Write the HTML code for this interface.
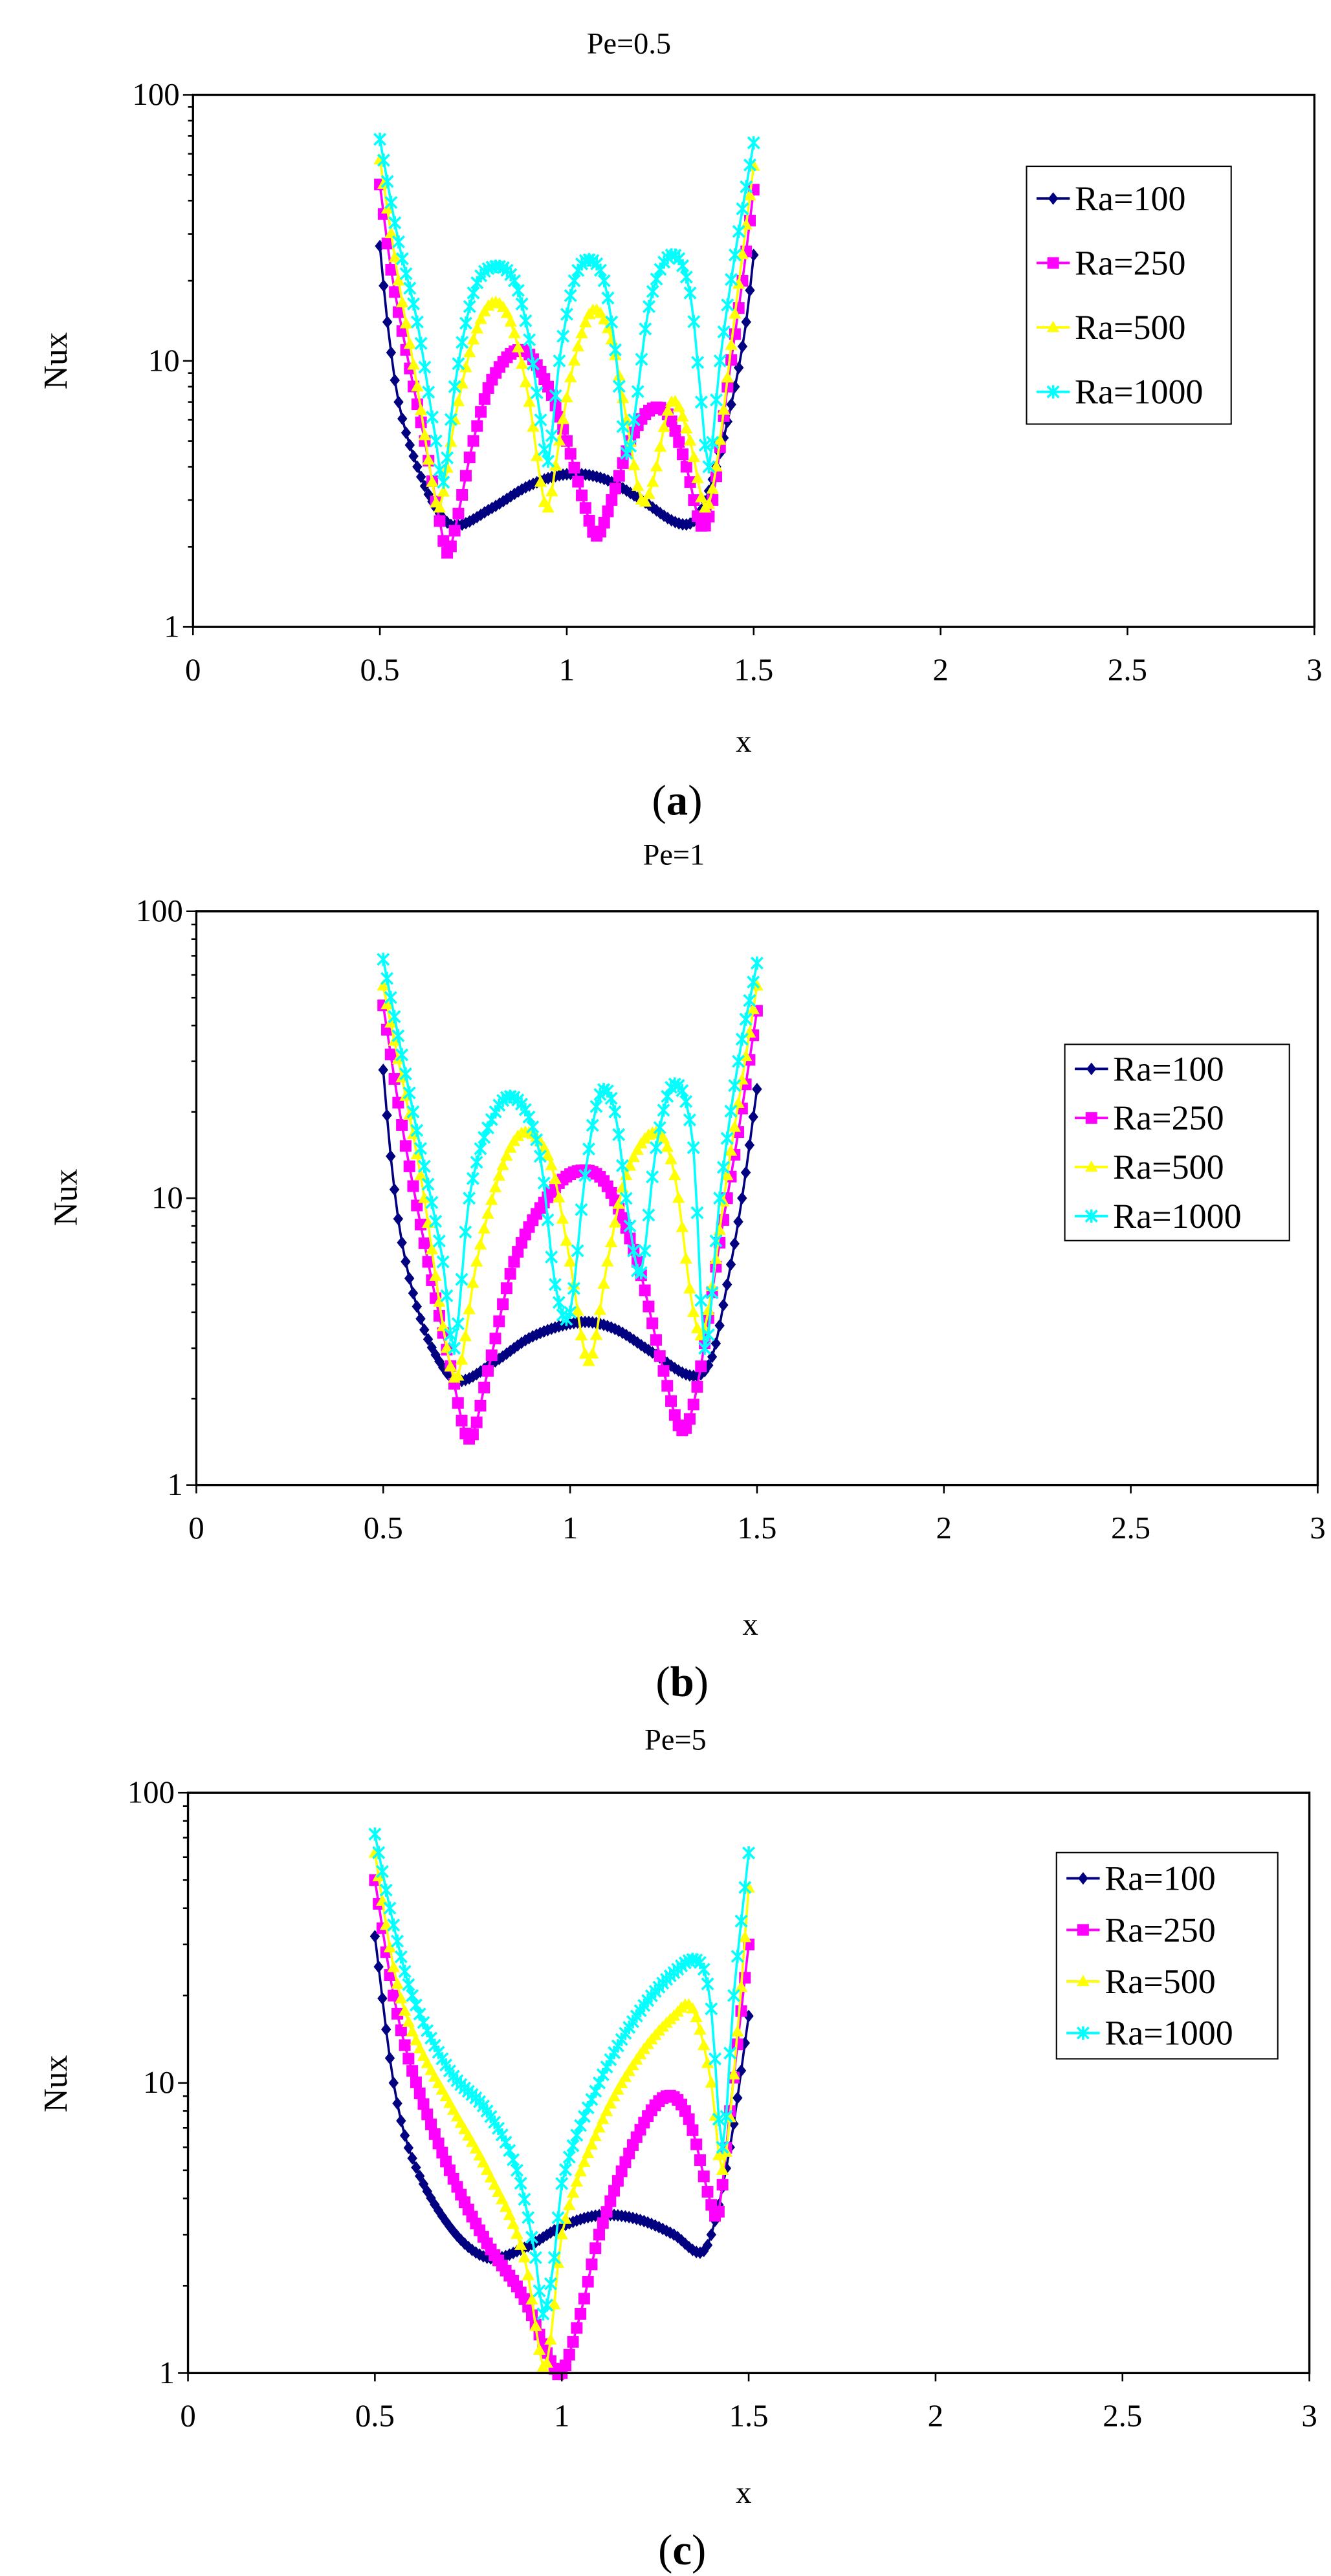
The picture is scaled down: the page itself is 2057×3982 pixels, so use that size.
<!DOCTYPE html>
<html><head><meta charset="utf-8"><style>
html,body{margin:0;padding:0;background:#fff}
svg{display:block}
text{font-family:"Liberation Serif",serif;fill:#000}
</style></head><body>
<svg id="s" width="2057" height="3982" viewBox="0 0 800 1549" preserveAspectRatio="none" xmlns="http://www.w3.org/2000/svg"></svg>
<script>
const NS="http://www.w3.org/2000/svg",S=document.getElementById('s');
function el(t,a,txt){const e=document.createElementNS(NS,t);for(const k in a)e.setAttribute(k,a[k]);if(txt!==undefined)e.textContent=txt;S.appendChild(e);return e;}
const cols=["#000080","#FF00FF","#FFFF00","#00FFFF"];
const names=["Ra=100","Ra=250","Ra=500","Ra=1000"];
function interp(pts,x){
  let i=0;while(i<pts.length-2&&x>pts[i+1][0])i++;
  const p0=pts[Math.max(i-1,0)],p1=pts[i],p2=pts[i+1],p3=pts[Math.min(i+2,pts.length-1)];
  const t=(x-p1[0])/(p2[0]-p1[0]);
  const L=v=>Math.log10(v);
  const y0=L(p0[1]),y1=L(p1[1]),y2=L(p2[1]),y3=L(p3[1]);
  const h=p2[0]-p1[0];
  const m1=(y2-y0)/(p2[0]-p0[0]||1)*h,m2=(y3-y1)/(p3[0]-p1[0]||1)*h;
  const t2=t*t,t3=t2*t;
  return (2*t3-3*t2+1)*y1+(t3-2*t2+t)*m1+(-2*t3+3*t2)*y2+(t3-t2)*m2;
}
function marker(k,x,y){
  const c=cols[k];
  if(k==0)el('polygon',{points:`${x},${y-3.8} ${x+3},${y} ${x},${y+3.8} ${x-3},${y}`,fill:c});
  else if(k==1)el('rect',{x:x-3.5,y:y-3.5,width:7,height:7,fill:c});
  else if(k==2)el('polygon',{points:`${x},${y-4} ${x+3.8},${y+2.8} ${x-3.8},${y+2.8}`,fill:c});
  else{el('path',{d:`M${x-3.4},${y-3.4}L${x+3.4},${y+3.4}M${x-3.4},${y+3.4}L${x+3.4},${y-3.4}M${x},${y-4}L${x},${y+4}`,stroke:c,'stroke-width':1.4,fill:'none'});}
}
function panel(P){
  const {L,R,T,B}=P;
  const X=v=>L+v/3*(R-L),Y=lv=>B-lv/2*(B-T);
  el('text',{x:P.title[0],y:P.title[1],'font-size':18,'text-anchor':'middle'},P.title[2]);
  P.data.forEach((pts,k)=>{
    let d="";const mk=[];
    for(let i=0;i<=100;i++){const x=0.5+i*0.01;const ly=interp(pts,x);const px=X(x),py=Y(ly);d+=(i?"L":"M")+px.toFixed(2)+","+py.toFixed(2);mk.push([px,py]);}
    el('path',{d,stroke:cols[k],'stroke-width':1.4,fill:'none'});
    mk.forEach(m=>marker(k,m[0],m[1]));
  });
  el('rect',{x:L,y:T,width:R-L,height:B-T,fill:'none',stroke:'#000','stroke-width':1.3});
  for(let i=0;i<=6;i++){const x=L+i*(R-L)/6;el('line',{x1:x,y1:B,x2:x,y2:B+5,stroke:'#000','stroke-width':1});
    el('text',{x:x,y:B+32,'font-size':19,'text-anchor':'middle'},String(i*0.5));}
  for(let d=0;d<2;d++)for(let m=1;m<=9;m++){const y=Y(d+Math.log10(m));el('line',{x1:L-(m==1?6:3),y1:y,x2:L,y2:y,stroke:'#000','stroke-width':1});}
  el('line',{x1:L-6,y1:T,x2:L,y2:T,stroke:'#000','stroke-width':1});
  [["1",0],["10",1],["100",2]].forEach(a=>el('text',{x:L-8,y:Y(a[1])+6,'font-size':19,'text-anchor':'end'},a[0]));
  el('text',{x:P.xl[0],y:P.xl[1],'font-size':19,'text-anchor':'middle'},"x");
  el('text',{x:0,y:0,'font-size':20,'text-anchor':'middle',transform:`translate(${P.nux[0]},${P.nux[1]}) rotate(-90)`},"Nux");
  const lg=P.leg;el('rect',{x:lg[0],y:lg[1],width:lg[2]-lg[0],height:lg[3]-lg[1],fill:'#fff',stroke:'#000','stroke-width':0.8});
  const step=(lg[3]-lg[1])/4;
  for(let k=0;k<4;k++){const y=lg[1]+step*(k+0.5);
    el('line',{x1:lg[0]+6,y1:y,x2:lg[0]+26,y2:y,stroke:cols[k],'stroke-width':1.5});marker(k,lg[0]+16,y);
    el('text',{x:lg[0]+29,y:y+7,'font-size':21},names[k]);}
  const t=el('text',{x:P.lab[0],y:P.lab[1],'font-size':26,'text-anchor':'middle'});
  t.innerHTML=`(<tspan font-weight="bold">${P.lab[2]}</tspan>)`;
}
panel({L:116,R:790,T:57,B:377,title:[378,32,"Pe=0.5"],xl:[447,452],nux:[40,217],leg:[617,100,740,255],lab:[407,490,"a"],
data:[
[[0.5,27],[0.52,14],[0.55,7],[0.6,4],[0.65,2.8],[0.7,2.4],[0.8,2.8],[0.9,3.4],[1.0,3.75],[1.1,3.6],[1.2,3.0],[1.3,2.45],[1.35,2.6],[1.4,4],[1.45,8],[1.48,14],[1.5,25]],
[[0.5,46],[0.53,22],[0.57,11],[0.62,5],[0.66,2.5],[0.68,1.9],[0.7,2.3],[0.75,5],[0.8,8.5],[0.88,11],[0.95,8],[1.0,5],[1.05,2.8],[1.08,2.2],[1.12,3],[1.17,5],[1.22,6.5],[1.27,6.3],[1.32,4],[1.36,2.4],[1.39,3],[1.43,8],[1.47,20],[1.5,44]],
[[0.5,57],[0.55,20],[0.6,8],[0.64,3.5],[0.66,2.8],[0.7,6],[0.75,12],[0.8,16.5],[0.85,14],[0.9,7],[0.93,3.5],[0.95,2.8],[0.98,5],[1.02,10],[1.07,15.5],[1.12,12],[1.16,6],[1.2,3],[1.23,3.5],[1.28,7],[1.33,5],[1.37,2.8],[1.4,4],[1.45,15],[1.5,54]],
[[0.5,68],[0.55,28],[0.6,14],[0.65,5],[0.67,3.5],[0.7,8],[0.75,18],[0.8,22.5],[0.86,20],[0.9,12],[0.93,6],[0.95,4.2],[0.98,10],[1.02,20],[1.06,24],[1.1,20],[1.13,11],[1.16,4.5],[1.18,6],[1.22,16],[1.28,25],[1.33,18],[1.36,7],[1.38,4],[1.41,10],[1.45,25],[1.5,66]]
]});
panel({L:118,R:792,T:548,B:893,title:[405,520,"Pe=1"],xl:[451,983],nux:[46,720],leg:[640,628,775,746],lab:[410,1020,"b"],
data:[
[[0.5,28],[0.52,14],[0.55,7],[0.6,3.8],[0.65,2.7],[0.7,2.3],[0.8,2.7],[0.9,3.3],[1.03,3.7],[1.12,3.5],[1.22,2.9],[1.33,2.4],[1.38,2.8],[1.42,5],[1.46,10],[1.5,24]],
[[0.5,47],[0.55,18],[0.62,6],[0.68,2.6],[0.73,1.45],[0.78,2.5],[0.85,6],[0.95,10.5],[1.03,12.5],[1.1,11],[1.18,6],[1.25,2.5],[1.3,1.55],[1.34,2.2],[1.4,7],[1.45,17],[1.5,45]],
[[0.5,55],[0.6,12],[0.67,3],[0.7,2.4],[0.75,6],[0.82,13],[0.88,17],[0.95,13],[1.0,6],[1.05,2.7],[1.1,6],[1.15,12],[1.23,17],[1.28,12],[1.33,4],[1.36,3.5],[1.42,12],[1.5,55]],
[[0.5,68],[0.58,20],[0.66,6],[0.69,3],[0.73,10],[0.8,20],[0.86,22],[0.92,14],[0.96,5],[1.0,4],[1.04,12],[1.08,23],[1.12,20],[1.16,8],[1.19,5.5],[1.23,15],[1.28,25],[1.33,15],[1.36,3],[1.4,10],[1.45,30],[1.5,66]]
]});
panel({L:113,R:787,T:1078,B:1427,title:[406,1052,"Pe=5"],xl:[447,1505],nux:[40,1253],leg:[635,1114,768,1238],lab:[410,1542,"c"],
data:[
[[0.5,32],[0.55,10],[0.6,5.5],[0.7,3.2],[0.8,2.5],[0.9,2.7],[1.0,3.2],[1.1,3.5],[1.2,3.4],[1.3,3.0],[1.37,2.6],[1.4,3],[1.45,6],[1.5,17]],
[[0.5,50],[0.55,20],[0.6,11],[0.7,5],[0.8,2.8],[0.9,1.8],[0.97,1.1],[1.0,1.0],[1.05,1.6],[1.1,3],[1.2,6.5],[1.28,9],[1.34,7.5],[1.4,3.8],[1.42,3.6],[1.45,8],[1.5,30]],
[[0.5,62],[0.55,25],[0.6,15],[0.7,8.5],[0.8,5],[0.9,2.5],[0.95,1.05],[0.97,1.3],[1.0,3],[1.1,7],[1.2,12],[1.3,17],[1.35,18],[1.4,10],[1.43,5],[1.47,15],[1.5,47]],
[[0.5,72],[0.55,35],[0.6,20],[0.7,11],[0.8,8],[0.88,5],[0.93,2.5],[0.95,1.6],[0.98,2.5],[1.0,4.5],[1.1,10],[1.2,17],[1.3,24],[1.37,26],[1.4,18],[1.43,6],[1.46,20],[1.5,62]]
]});
</script>
</body></html>
